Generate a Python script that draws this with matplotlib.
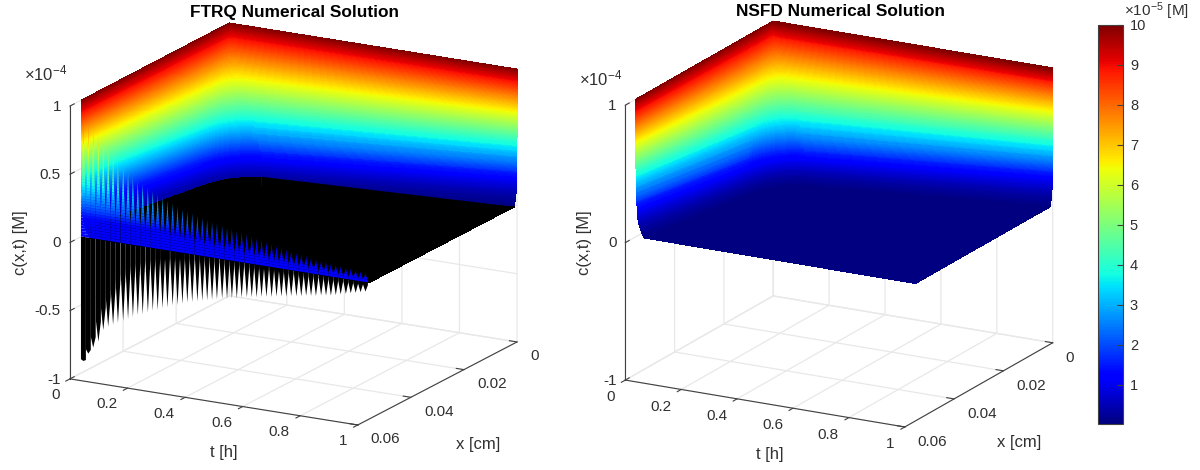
import matplotlib
matplotlib.use('Agg')
import matplotlib.pyplot as plt
import numpy as np
from matplotlib.cm import ScalarMappable
from matplotlib.colors import Normalize
from mpl_toolkits.mplot3d.art3d import Poly3DCollection

plt.rcParams['font.family'] = ['Liberation Sans', 'DejaVu Sans']
plt.rcParams['font.size'] = 12
plt.rcParams['text.color'] = '#303030'
plt.rcParams['axes.labelcolor'] = '#303030'
plt.rcParams['axes.edgecolor'] = '#404040'
plt.rcParams['xtick.color'] = '#404040'
plt.rcParams['ytick.color'] = '#404040'
plt.rcParams['xtick.labelcolor'] = '#303030'
plt.rcParams['ytick.labelcolor'] = '#303030'
plt.rcParams['grid.color'] = '#e8e8e8'
plt.rcParams['grid.linewidth'] = 0.9
plt.rcParams['mathtext.default'] = 'regular'

t_ticks = [0, 0.2, 0.4, 0.6, 0.8, 1]
t_labels = ['0', '0.2', '0.4', '0.6', '0.8', '1']
x_ticks = [0, 0.02, 0.04, 0.06]
x_labels = ['0', '0.02', '0.04', '0.06']
c_ticks_ftrq = [-1, -0.5, 0, 0.5, 1]
c_labels_ftrq = ['-1', '-0.5', '0', '0.5', '1']
c_ticks_nsfd = [-1, 0, 1]
c_labels_nsfd = ['-1', '0', '1']
bar_ticks = [1, 2, 3, 4, 5, 6, 7, 8, 9, 10]

x_end = 0.0557  # last grid point, the axis runs on to 0.06

# band of the surface going down the wall at small t / small x, units 1e-4 M
c_levels = [1.00, 0.98, 0.96, 0.94, 0.92, 0.90, 0.88, 0.86, 0.84, 0.82, 0.80, 0.78, 0.76,
            0.74, 0.72, 0.70, 0.68, 0.66, 0.64, 0.62, 0.60, 0.58, 0.56, 0.54, 0.52, 0.50,
            0.48, 0.46, 0.44, 0.42, 0.40, 0.38, 0.36, 0.34, 0.32, 0.30, 0.28, 0.26, 0.24,
            0.22, 0.20, 0.18, 0.16, 0.14, 0.12, 0.10, 0.08, 0.06, 0.04, 0.02, 0.00]
wall_height = [1.000, 0.982, 0.965, 0.947, 0.930, 0.912, 0.894, 0.876, 0.858, 0.840, 0.822,
               0.804, 0.786, 0.768, 0.750, 0.732, 0.714, 0.696, 0.678, 0.661, 0.643, 0.626,
               0.608, 0.591, 0.573, 0.556, 0.538, 0.521, 0.503, 0.486, 0.469, 0.451, 0.433,
               0.414, 0.396, 0.377, 0.358, 0.340, 0.321, 0.303, 0.284, 0.265, 0.247, 0.228,
               0.209, 0.187, 0.160, 0.130, 0.098, 0.060, 0.000]
corner_t = [0, 0.002, 0.004, 0.006, 0.008, 0.010, 0.012, 0.016, 0.019, 0.023, 0.027, 0.031,
            0.034, 0.038, 0.042, 0.046, 0.049, 0.053, 0.057, 0.061, 0.064, 0.067, 0.071,
            0.074, 0.077, 0.080, 0.083, 0.086, 0.090, 0.092, 0.095, 0.098, 0.100, 0.104,
            0.106, 0.109, 0.111, 0.114, 0.116, 0.118, 0.120, 0.122, 0.124, 0.127, 0.129,
            0.130, 0.130, 0.130, 0.130, 0.130, 0.130]
edge_lean = [0, 0, 0, 0, 0, 0, 0, 0, 0, 0, 0, 0, 0, 0, 0, 0, 0, 0, 0, 0, 0, 0, 0, 0, 0, 0,
             0, 0, 0, 0.001, 0.001, 0.001, 0.001, 0.001, 0.002, 0.002, 0.002, 0.002, 0.002,
             0.003, 0.003, 0.003, 0.003, 0.004, 0.004, 0.004, 0.005, 0.007, 0.010, 0.016, 0.029]

# FTRQ oscillation along the x = x_end edge, one entry per tooth, units 1e-4 M
tooth_t = [0.007, 0.024, 0.041, 0.059, 0.076, 0.093, 0.110, 0.127, 0.145, 0.162, 0.179, 0.196,
           0.213, 0.231, 0.248, 0.265, 0.282, 0.299, 0.317, 0.334, 0.351, 0.368, 0.385, 0.403,
           0.420, 0.437, 0.454, 0.471, 0.489, 0.506, 0.523, 0.540, 0.557, 0.575, 0.592, 0.609,
           0.626, 0.643, 0.661, 0.678, 0.695, 0.712, 0.729, 0.747, 0.764, 0.781, 0.798, 0.815,
           0.833, 0.850, 0.867, 0.884, 0.901, 0.919, 0.936, 0.953, 0.970, 0.987]
tooth_top = [0.92, 0.87, 0.82, 0.77, 0.72, 0.68, 0.64, 0.60, 0.57, 0.54, 0.51, 0.485, 0.465,
             0.445, 0.425, 0.405, 0.39, 0.37, 0.355, 0.34, 0.325, 0.315, 0.305, 0.295, 0.285,
             0.275, 0.265, 0.255, 0.25, 0.24, 0.235, 0.225, 0.22, 0.215, 0.205, 0.195, 0.19,
             0.18, 0.175, 0.165, 0.16, 0.15, 0.145, 0.135, 0.13, 0.125, 0.115, 0.11, 0.105,
             0.10, 0.095, 0.09, 0.085, 0.08, 0.08, 0.075, 0.07, 0.065]
tooth_notch = [-0.90, -0.82, -0.72, -0.60, -0.49, -0.41, -0.34, -0.27, -0.22, -0.18, -0.15,
               -0.13, -0.11, -0.095, -0.085, -0.075, -0.065, -0.06, -0.05, -0.045, -0.04,
               -0.035, -0.03, -0.025, -0.02, -0.02, -0.02, -0.02, -0.02, -0.02, -0.02, -0.02,
               -0.02, -0.02, -0.02, -0.02, -0.02, -0.02, -0.02, -0.02, -0.02, -0.02, -0.02,
               -0.02, -0.02, -0.02, -0.02, -0.02, -0.02, -0.02, -0.02, -0.02, -0.02, -0.02,
               -0.02, -0.02, -0.02, -0.02]
tooth_bottom = [-0.91, -0.85, -0.80, -0.75, -0.66, -0.63, -0.61, -0.59, -0.57, -0.55, -0.53,
                -0.51, -0.50, -0.48, -0.46, -0.45, -0.43, -0.42, -0.40, -0.39, -0.375, -0.36,
                -0.35, -0.34, -0.33, -0.32, -0.31, -0.30, -0.29, -0.285, -0.275, -0.27, -0.26,
                -0.25, -0.245, -0.24, -0.23, -0.225, -0.22, -0.21, -0.205, -0.20, -0.19, -0.185,
                -0.18, -0.17, -0.165, -0.16, -0.15, -0.145, -0.14, -0.13, -0.12, -0.11, -0.10,
                -0.09, -0.08, -0.07]

jet = plt.get_cmap('jet')
c_norm = Normalize(0, 1e-4)
W, H = 1200, 470


def make_axes(fig, centre, view, box):
    # box holds the edge lengths in pixels, centre is where the box middle lands
    side = 0.9708 * np.linalg.norm(box)
    left = centre[0] - 0.5135 * side
    bottom = H - centre[1] - 0.5135 * side
    ax = fig.add_axes([left / W, bottom / H, side / W, side / H], projection='3d',
                      proj_type='ortho', computed_zorder=False)
    ax.set_box_aspect(box)
    ax.view_init(elev=view[0], azim=view[1])
    ax.patch.set_alpha(0)
    ax.set_xlim(0, 0.06, view_margin=0)
    ax.set_ylim(0, 1, view_margin=0)
    ax.set_zlim(-1e-4, 1e-4, view_margin=0)
    return ax


def style_axes(ax, c_ticks, c_labels):
    ax.set_xticks(x_ticks, x_labels, ha='left', va='center', fontsize=11)
    ax.set_yticks(t_ticks, t_labels, ha='right', va='bottom', fontsize=11)
    ax.set_zticks(np.array(c_ticks) * 1e-4, c_labels, ha='right', va='center', fontsize=11)
    for axis in (ax.xaxis, ax.yaxis, ax.zaxis):
        axis.set_pane_color((1, 1, 1, 1))
        axis.pane.set_edgecolor('none')
        axis.line.set_color('#404040')
        axis.line.set_linewidth(0.8)
    ax.xaxis._axinfo['tick'].update(inward_factor=0, outward_factor=0.33)
    ax.yaxis._axinfo['tick'].update(inward_factor=0.33, outward_factor=0)
    ax.zaxis._axinfo['tick'].update(inward_factor=0, outward_factor=0.33)
    ax.zaxis.set_ticks_position('lower')
    ax.tick_params(axis='x', pad=1)
    ax.tick_params(axis='y', pad=5)
    ax.tick_params(axis='z', pad=-4)


def smooth(values, steps=3):
    # finer rows so the colours run on like shading interp instead of in visible bands
    values = np.asarray(values, dtype=float)
    pos = np.arange((len(values) - 1) * steps + 1) / steps
    return np.interp(pos, np.arange(len(values)), values)


def draw_surface(ax, black_floor):
    c = smooth(c_levels)
    height = smooth(wall_height)
    lean = smooth(edge_lean)
    corner = smooth(corner_t)
    n = len(c)
    # columns of each level: x_end edge, rounded back corner, t = 1 edge
    left = np.column_stack([np.full(n, x_end), lean])
    back = np.column_stack([0.105 * corner, corner])
    right = np.column_stack([0.035 * lean, np.ones(n)])
    round_off = (corner / 0.13)[:, None]
    near_left = back + (left - back) * 0.2 * round_off
    near_right = back + (right - back) * 0.11 * round_off
    columns = [left, near_left]
    for w in (0.25, 0.5, 0.75):
        columns.append((1 - w) ** 2 * near_left + 2 * w * (1 - w) * back + w ** 2 * near_right)
    columns += [near_right, right]
    x = np.zeros((n + 1, len(columns)))
    t = np.zeros((n + 1, len(columns)))
    for j, col in enumerate(columns):
        x[:n, j], t[:n, j] = col[:, 0], col[:, 1]
    # last row closes the flat floor out to the front corner
    x[n], t[n] = x_end, 1
    x[n, 0], t[n, 0] = left[-1]
    x[n, -1], t[n, -1] = right[-1]
    z = np.zeros(x.shape)
    z[:n] = height[:, None] * 1e-4
    levels = np.repeat(np.append(c, 0)[:, None], len(columns), axis=1)
    colors = jet(c_norm(levels * 1e-4))
    if black_floor:
        # the black of the dense FTRQ mesh; on the long t = 1 leg it starts lower, see the wedge below
        black = levels <= 0.03
        black[:n - 1, -2:] = False
        colors[black] = (0, 0, 0, 1)
    ax.plot_surface(x, t, z, facecolors=colors, rstride=1, cstride=1, shade=False,
                    linewidth=0, antialiased=False, zorder=1)
    if black_floor:
        start = int(np.argmax(c <= 0.03))
        wedge = [(x[start, -2], t[start, -2], z[start, -2]), (x[n - 1, -1], t[n - 1, -1], 0),
                 (x[n - 1, -2], t[n - 1, -2], 0)]
        ax.add_collection3d(Poly3DCollection([wedge], facecolors='k', linewidths=0, zorder=1.5), autolim=False)


def draw_teeth(ax):
    half = 0.0086
    upper, upper_colors, lower = [], [], []
    for tm, top, notch, bottom in zip(tooth_t, tooth_top, tooth_notch, tooth_bottom):
        # solid for the first 30 % of the height, then narrowing fast to the tip
        width = lambda h: half * min(1, (1 - h / top) / 0.7) ** 1.5
        h = 0.0
        while h < top:
            h2 = min(h + 0.02, top)
            upper.append([(x_end, tm - width(h), h * 1e-4), (x_end, tm + width(h), h * 1e-4),
                          (x_end, tm + width(h2), h2 * 1e-4), (x_end, tm - width(h2), h2 * 1e-4)])
            upper_colors.append(jet(max(h, 0.11)))
            h = h2
        lower.append([(x_end, tm - half, 0), (x_end, tm + half, 0),
                      (x_end, tm + half, notch * 1e-4), (x_end, tm, bottom * 1e-4),
                      (x_end, tm - half, notch * 1e-4)])
    ax.add_collection3d(Poly3DCollection(lower, facecolors='k', linewidths=0, zorder=2), autolim=False)
    ax.add_collection3d(Poly3DCollection(upper, facecolors=upper_colors, linewidths=0, zorder=3), autolim=False)


def label_px(px, py, text, **kwargs):
    fig.text(px / W, 1 - py / H, text, ha=kwargs.pop('ha', 'center'), va='center', **kwargs)


fig = plt.figure(figsize=(12, 4.7), dpi=100)

ax1 = make_axes(fig, (293.5, 224), (16.8, 29), (328.5, 329, 285))
draw_surface(ax1, True)
draw_teeth(ax1)
style_axes(ax1, c_ticks_ftrq, c_labels_ftrq)

ax2 = make_axes(fig, (839, 224), (18, 28.5), (310, 318, 289))
draw_surface(ax2, False)
style_axes(ax2, c_ticks_nsfd, c_labels_nsfd)

label_px(294, 12, 'FTRQ Numerical Solution', fontweight='bold', fontsize=12.4, color='k')
label_px(841, 12, 'NSFD Numerical Solution', fontweight='bold', fontsize=12.4, color='k')
label_px(24, 73, r'$\times10^{-4}$', ha='left')
label_px(579, 78, r'$\times10^{-4}$', ha='left')
label_px(224, 453, 't [h]')
label_px(478, 444, 'x [cm]')
label_px(20, 243, 'c(x,t) [M]', rotation=90)
label_px(770, 454, 't [h]')
label_px(1019, 443, 'x [cm]')
label_px(584, 243, 'c(x,t) [M]', rotation=90)

cax = fig.add_axes([1098 / W, 1 - 424 / H, 25 / W, 399 / H])
bar = fig.colorbar(ScalarMappable(Normalize(2.5e-7, 1e-4), jet), cax=cax)
bar.set_ticks(np.array(bar_ticks) * 1e-5, labels=[str(v) for v in bar_ticks])
bar.ax.tick_params(direction='in', length=4, width=0.8, pad=5, labelsize=10.5)
bar.outline.set_edgecolor('#404040')
bar.outline.set_linewidth(0.8)
label_px(1124, 11, r'$\times10^{-5}$ [M]', ha='left', fontsize=11)

fig.savefig('out.png', dpi=100)
